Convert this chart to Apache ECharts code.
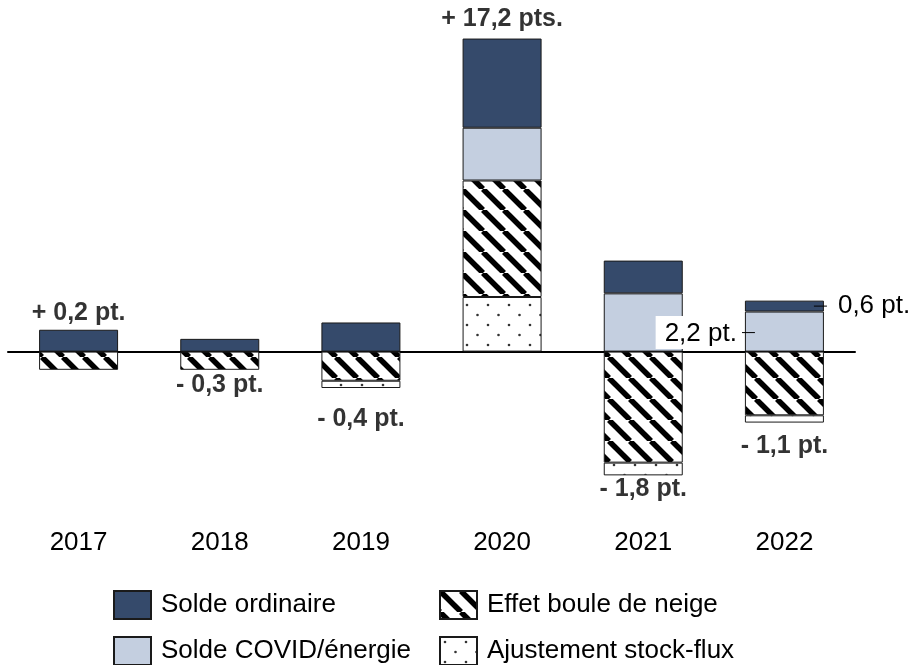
<!DOCTYPE html>
<html>
<head>
<meta charset="utf-8">
<script src="https://cdn.jsdelivr.net/npm/echarts@6/dist/echarts.min.js"></script>
<style>
    html, body { margin: 0; padding: 0; background: #fff; }
    #chart { width: 914px; height: 665px; }
</style>
</head>
<body>
<div id="chart"></div>
<script>
    // contributions à la variation de la dette (points de PIB)
    var years = ['2017', '2018', '2019', '2020', '2021', '2022'];
    var soldeOrdinaire = [1.2, 0.7, 1.6, 4.9, 1.8, 0.6];
    var soldeCovid = [0, 0, 0, 2.9, 3.2, 2.2];
    var effetBouleNeige = [-1.0, -1.0, -1.6, 6.4, -6.1, -3.5];
    var stockFlux = [0, 0, -0.4, 3.0, -0.7, -0.4];
    var totals = [0.2, -0.3, -0.4, 17.2, -1.8, -1.1];

    // écart entre la barre et le libellé du total (réglage visuel)
    var totalLabelGap = [4, 2, 18, 6, 1, 11];

    var FONT = '"Liberation Sans", Arial, sans-serif';

    function fmt(v) {
        return Math.abs(v).toFixed(1).replace('.', ',');
    }

    function stripePattern() {
        var T = 21;
        var c = document.createElement('canvas');
        c.width = T; c.height = T;
        var g = c.getContext('2d');
        g.fillStyle = '#fff';
        g.fillRect(0, 0, T, T);
        g.strokeStyle = '#000';
        g.lineWidth = 5.5;
        for (var k = -1; k <= 1; k++) {
            g.beginPath();
            g.moveTo(k * T, 0);
            g.lineTo(k * T + T, T);
            g.stroke();
        }
        return { image: c, repeat: 'repeat' };
    }

    function dotPattern() {
        var c = document.createElement('canvas');
        c.width = 21; c.height = 20;
        var g = c.getContext('2d');
        g.fillStyle = '#fff';
        g.fillRect(0, 0, 21, 20);
        g.fillStyle = '#333';
        g.beginPath(); g.arc(5, 5, 1.3, 0, Math.PI * 2); g.fill();
        g.beginPath(); g.arc(15.5, 15, 1.3, 0, Math.PI * 2); g.fill();
        return { image: c, repeat: 'repeat' };
    }

    function sumSign(i, positive) {
        var s = 0;
        [soldeOrdinaire, soldeCovid, effetBouleNeige, stockFlux].forEach(function (a) {
            if (positive && a[i] > 0) s += a[i];
            if (!positive && a[i] < 0) s += a[i];
        });
        return s;
    }

    function orDash(v) { return v === 0 ? '-' : v; }

    var border = { borderColor: '#1a1a1a', borderWidth: 1 };
    var stripes = stripePattern();
    var dots = dotPattern();

    var leaderRich = {
        l: { width: 13, height: 1, backgroundColor: '#000' },
        t: { fontSize: 26, fontFamily: FONT, color: '#000', padding: [0, 0, 0, 11] },
        b: { fontSize: 26, fontFamily: FONT, color: '#000', backgroundColor: '#fff', padding: [5, 5, 2, 9] }
    };

    var ordinaireData = soldeOrdinaire.map(function (v, i) {
        if (i !== 5) return v;
        return {
            value: v,
            label: {
                show: true,
                position: ['100%', '50%'],
                align: 'left',
                verticalAlign: 'middle',
                offset: [-10, 0],
                formatter: function (p) { return '{l|}{t|' + fmt(p.value) + ' pt.}'; },
                rich: leaderRich
            }
        };
    });

    var covidData = soldeCovid.map(function (v, i) {
        if (i !== 5) return orDash(v);
        return {
            value: v,
            label: {
                show: true,
                position: ['0%', '50%'],
                align: 'right',
                verticalAlign: 'middle',
                offset: [10, 1],
                formatter: function (p) { return '{b|' + fmt(p.value) + ' pt.}{l|}'; },
                rich: leaderRich
            }
        };
    });

    var totalData = years.map(function (y, i) {
        var up = totals[i] >= 0;
        return {
            value: up ? sumSign(i, true) : sumSign(i, false),
            label: { position: up ? 'top' : 'bottom', distance: totalLabelGap[i] }
        };
    });

    var legendBase = {
        type: 'plain',
        orient: 'vertical',
        top: 590,
        height: 120,
        padding: 0,
        icon: 'rect',
        itemWidth: 37,
        itemHeight: 28,
        itemGap: 16,
        selectedMode: false,
        textStyle: { fontSize: 26, lineHeight: 28, color: '#000', fontFamily: FONT, padding: [0, 0, 0, 5] }
    };

    var myChart = echarts.init(document.getElementById('chart'));
    var options = {
        animation: false,
        textStyle: { fontFamily: FONT },
        grid: { left: 8, right: 59, top: 24, height: 455, outerBoundsMode: 'none', containLabel: false },
        legend: [
            Object.assign({ data: ['Solde ordinaire', 'Solde COVID/énergie'], left: 113 }, legendBase),
            Object.assign({ data: ['Effet boule de neige', 'Ajustement stock-flux'], left: 439 }, legendBase)
        ],
        xAxis: {
            type: 'category',
            data: years,
            axisTick: { show: false },
            axisLine: { onZero: true, lineStyle: { color: '#000', width: 2 } },
            axisLabel: { margin: 51, fontSize: 26, color: '#000', fontFamily: FONT }
        },
        yAxis: {
            type: 'value',
            min: -7,
            max: 18,
            show: false,
            splitLine: { show: false }
        },
        series: [{
            name: 'Ajustement stock-flux',
            type: 'bar',
            stack: 'dette',
            barWidth: 79,
            itemStyle: Object.assign({ color: dots }, border),
            data: stockFlux.map(function (v) { return v > 0 ? v : '-'; })
        }, {
            name: 'Effet boule de neige',
            type: 'bar',
            stack: 'dette',
            barWidth: 79,
            itemStyle: Object.assign({ color: stripes }, border),
            data: effetBouleNeige
        }, {
            name: 'Ajustement stock-flux',
            type: 'bar',
            stack: 'dette',
            barWidth: 79,
            itemStyle: Object.assign({ color: dots }, border),
            data: stockFlux.map(function (v) { return v < 0 ? v : '-'; })
        }, {
            name: 'Solde COVID/énergie',
            type: 'bar',
            stack: 'dette',
            barWidth: 79,
            itemStyle: Object.assign({ color: '#c4cfe0' }, border),
            data: covidData
        }, {
            name: 'Solde ordinaire',
            type: 'bar',
            stack: 'dette',
            barWidth: 79,
            itemStyle: Object.assign({ color: '#354a6b' }, border),
            data: ordinaireData
        }, {
            name: 'total',
            type: 'scatter',
            symbolSize: 1,
            itemStyle: { color: 'rgba(0,0,0,0)' },
            silent: true,
            label: {
                show: true,
                fontSize: 25,
                fontWeight: 'bold',
                color: '#000',
                fontFamily: FONT,
                formatter: function (p) {
                    var v = totals[p.dataIndex];
                    return (v >= 0 ? '+ ' : '- ') + fmt(v) + (Math.abs(v) >= 2 ? ' pts.' : ' pt.');
                }
            },
            data: totalData
        }]
    };
    myChart.setOption(options);
    window.addEventListener('resize', myChart.resize);
</script>
</body>
</html>
